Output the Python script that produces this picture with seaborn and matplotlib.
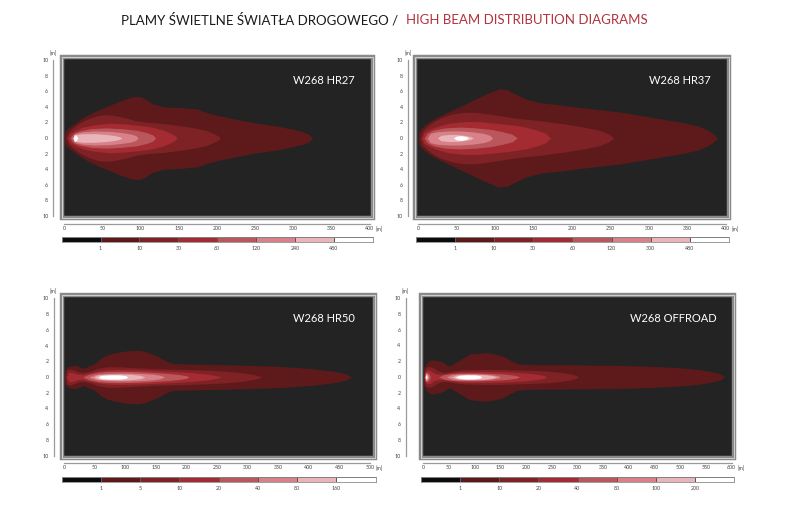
import numpy as np
import seaborn as sns
import matplotlib.pyplot as plt
from matplotlib.colors import ListedColormap
from matplotlib.patches import Rectangle

# poziomy natezenia (lux) - kolory od czarnego do bialego
level_colors = ['#0b0b0b', '#5e1a1b', '#7e2226', '#a32b31', '#b9575c', '#d98189', '#e9b5b9', '#ffffff']
bg_color = '#232323'

# --- W268 HR27 --- (odleglosc [m], polszerokosc [m]) dla kolejnych poziomow
hr27_labels = ['1', '10', '30', '60', '120', '240', '480']
hr27_x = [
    [0, 1.5, 6, 12, 20, 30, 45, 60, 75, 90, 100, 108, 115, 130, 150, 175, 185, 200, 220, 240, 260, 280, 300, 312, 320, 325],
    [3, 6, 12, 20, 30, 45, 55, 65, 80, 95, 110, 130, 150, 170, 185, 195, 201, 204],
    [5, 8, 15, 25, 40, 60, 80, 100, 115, 130, 140, 145, 148],
    [8, 12, 20, 35, 55, 75, 95, 108, 116, 120],
    [10, 15, 25, 40, 60, 75, 88, 94, 97],
    [12, 16, 25, 40, 55, 67, 73, 76],
    [12, 13.5, 16, 18],
]
hr27_w = [
    [0, 0.9, 1.3, 1.7, 2.3, 2.9, 3.6, 4.2, 4.8, 5.3, 5.3, 4.9, 4.4, 4.0, 3.9, 3.7, 3.3, 2.9, 2.5, 2.1, 1.8, 1.5, 1.1, 0.8, 0.5, 0],
    [0, 0.8, 1.3, 1.9, 2.4, 2.9, 3.0, 2.9, 2.6, 2.2, 2.0, 1.85, 1.6, 1.3, 1.0, 0.6, 0.3, 0],
    [0, 0.6, 1.0, 1.4, 1.7, 1.9, 1.8, 1.6, 1.4, 1.0, 0.6, 0.3, 0],
    [0, 0.6, 0.9, 1.2, 1.3, 1.2, 1.0, 0.7, 0.4, 0],
    [0, 0.6, 0.8, 0.9, 0.85, 0.7, 0.5, 0.3, 0],
    [0, 0.45, 0.55, 0.55, 0.45, 0.3, 0.15, 0],
    [0, 0.45, 0.35, 0],
]

# --- W268 HR37 ---
hr37_labels = ['1', '10', '30', '60', '120', '300', '480']
hr37_x = [
    [0, 1.5, 6, 12, 20, 30, 45, 60, 75, 90, 105, 115, 125, 140, 160, 187, 220, 265, 300, 343, 365, 376, 384, 389],
    [3, 6, 12, 20, 30, 45, 60, 75, 90, 110, 130, 160, 190, 215, 235, 248, 254],
    [5, 8, 15, 25, 40, 60, 80, 100, 120, 140, 155, 166, 172],
    [8, 12, 20, 35, 55, 75, 95, 110, 122, 129],
    [12, 16, 25, 40, 55, 70, 85, 93, 97],
    [25, 30, 40, 50, 60, 68, 72],
    [46, 50, 56, 62, 66],
]
hr37_w = [
    [0, 0.9, 1.4, 1.9, 2.4, 2.9, 3.6, 4.3, 5.0, 5.7, 6.3, 6.2, 5.7, 5.0, 4.5, 4.2, 3.8, 3.3, 2.7, 2.0, 1.5, 1.0, 0.5, 0],
    [0, 0.9, 1.5, 2.1, 2.6, 3.1, 3.3, 3.3, 3.1, 2.8, 2.5, 2.2, 1.8, 1.4, 1.0, 0.5, 0],
    [0, 0.7, 1.1, 1.5, 1.9, 2.1, 2.1, 1.9, 1.7, 1.4, 1.0, 0.6, 0],
    [0, 0.6, 1.0, 1.3, 1.4, 1.3, 1.1, 0.8, 0.5, 0],
    [0, 0.6, 0.8, 0.9, 0.9, 0.8, 0.6, 0.35, 0],
    [0, 0.35, 0.45, 0.45, 0.35, 0.2, 0],
    [0, 0.25, 0.3, 0.2, 0],
]

# --- W268 HR50 ---
hr50_labels = ['1', '5', '10', '20', '40', '80', '160']
hr50_x = [
    [0, 1, 5, 12, 20, 26, 32, 40, 50, 60, 70, 85, 100, 118, 130, 140, 150, 162, 170, 178, 200, 230, 270, 310, 350, 380, 410, 434, 450, 462, 469],
    [2, 4, 10, 18, 25, 35, 45, 55, 70, 90, 110, 150, 200, 240, 270, 295, 310, 318, 322],
    [4, 7, 14, 22, 30, 40, 55, 70, 90, 120, 150, 180, 210, 235, 250, 257],
    [30, 40, 55, 70, 90, 110, 140, 170, 190, 200, 204],
    [40, 50, 65, 85, 105, 125, 145, 158, 164],
    [48, 55, 70, 90, 110, 125, 132],
    [55, 60, 75, 90, 100, 104],
]
hr50_w = [
    [0, 0.9, 1.3, 1.4, 1.5, 1.2, 1.1, 1.4, 1.7, 2.4, 2.8, 3.1, 3.3, 3.4, 3.3, 3.0, 2.7, 2.2, 1.9, 1.7, 1.65, 1.6, 1.55, 1.45, 1.35, 1.2, 1.0, 0.8, 0.6, 0.35, 0],
    [0, 0.9, 1.0, 0.8, 0.6, 0.6, 0.8, 1.1, 1.3, 1.3, 1.2, 1.05, 0.95, 0.85, 0.7, 0.5, 0.3, 0.15, 0],
    [0, 0.6, 0.55, 0.35, 0.3, 0.5, 0.75, 0.9, 0.95, 0.9, 0.8, 0.7, 0.55, 0.35, 0.15, 0],
    [0, 0.35, 0.6, 0.7, 0.72, 0.7, 0.6, 0.45, 0.3, 0.15, 0],
    [0, 0.3, 0.45, 0.5, 0.5, 0.45, 0.35, 0.2, 0],
    [0, 0.28, 0.35, 0.38, 0.33, 0.2, 0],
    [0, 0.2, 0.28, 0.27, 0.18, 0],
]

# --- W268 OFFROAD ---
offroad_labels = ['1', '10', '20', '40', '80', '100', '200']
offroad_x = [
    [0, 1, 5, 10, 16, 24, 32, 40, 46, 52, 60, 70, 80, 90, 105, 123, 140, 156, 170, 182, 195, 230, 280, 330, 390, 440, 490, 520, 545, 565, 578, 586],
    [1, 3, 8, 14, 20, 28, 36, 45, 60, 80, 110, 150, 200, 240, 270, 290, 298, 302],
    [2, 4, 8, 14, 20, 28, 40, 55, 70, 90, 120, 160, 200, 225, 236, 240],
    [2, 4, 8, 12, 14, 30, 40, 55, 75, 100, 130, 160, 180, 188],
    [3, 5, 8, 10, 45, 55, 70, 90, 110, 130, 145, 150],
    [3.5, 5, 7, 9, 55, 65, 80, 100, 120, 135, 142],
    [4, 5.5, 7, 62, 70, 85, 100, 110, 114],
]
offroad_w = [
    [0, 1.2, 1.6, 2.0, 2.2, 2.1, 2.0, 1.8, 1.5, 1.4, 1.7, 2.1, 2.5, 2.9, 3.0, 3.1, 2.9, 2.6, 2.1, 1.7, 1.6, 1.55, 1.55, 1.5, 1.45, 1.35, 1.2, 1.05, 0.85, 0.6, 0.35, 0],
    [0, 1.0, 1.3, 1.3, 1.1, 0.8, 0.6, 0.6, 0.75, 0.9, 0.95, 0.95, 0.85, 0.75, 0.55, 0.35, 0.15, 0],
    [0, 0.7, 0.9, 0.8, 0.5, 0.35, 0.35, 0.5, 0.65, 0.7, 0.7, 0.65, 0.5, 0.3, 0.15, 0],
    [0, 0.6, 0.6, 0.3, 0, 0, 0.3, 0.45, 0.5, 0.5, 0.45, 0.35, 0.18, 0],
    [0, 0.45, 0.4, 0, 0, 0.28, 0.38, 0.4, 0.38, 0.3, 0.15, 0],
    [0, 0.38, 0.3, 0, 0, 0.25, 0.32, 0.33, 0.28, 0.15, 0],
    [0, 0.28, 0, 0, 0.2, 0.27, 0.25, 0.15, 0],
]

W, H = 786, 522
sns.set_style('white')
plt.rcParams['font.family'] = ['Lato', 'DejaVu Sans']

fig = plt.figure(figsize=(W / 100, H / 100), dpi=100)


def box(x0, y0, x1, y1):
    return [x0 / W, 1 - y1 / H, (x1 - x0) / W, (y1 - y0) / H]


def draw_panel(ax_px, frame_px, cb_px, yout, xout, name, xmax, xs, ws, labels):
    ax = fig.add_axes(box(*ax_px))
    ax.patch.set_visible(False)
    ax0, ay0, ax1, ay1 = ax_px
    fx0 = (frame_px[0] - ax0) / (ax1 - ax0)
    fx1 = (frame_px[2] - ax0) / (ax1 - ax0)
    fy1 = (ay1 - frame_px[1]) / (ay1 - ay0)
    fy0 = (ay1 - frame_px[3]) / (ay1 - ay0)
    ax.add_patch(Rectangle((fx0, fy0), fx1 - fx0, fy1 - fy0, transform=ax.transAxes,
                           facecolor=bg_color, edgecolor='#8a8a8a', lw=3.2, clip_on=False, zorder=0))
    ax.add_patch(Rectangle((fx0, fy0), fx1 - fx0, fy1 - fy0, transform=ax.transAxes,
                           facecolor='none', edgecolor='#dcdcdc', lw=0.6, clip_on=False, zorder=5))

    for i in range(len(xs)):
        x = np.array(xs[i])
        w = np.array(ws[i])
        ax.fill_between(x, -w, w, color=level_colors[i + 1], lw=0, zorder=2 + i * 0.1)

    ax.set_xlim(0, xmax)
    ax.set_ylim(-10, 10)
    ax.set_xticks(np.arange(0, xmax + 1, 50))
    ax.set_yticks(np.arange(-10, 11, 2))
    ax.set_yticklabels([str(abs(v)) for v in range(-10, 11, 2)])
    for s in ['top', 'right']:
        ax.spines[s].set_visible(False)
    ax.spines['left'].set_position(('outward', yout))
    ax.spines['bottom'].set_position(('outward', xout))
    for s in ['left', 'bottom']:
        ax.spines[s].set_color('#9a9a9a')
        ax.spines[s].set_linewidth(0.9)
    ax.tick_params(length=2.2, width=0.5, color='#555555', labelsize=3.8,
                   labelcolor='#444444', pad=1.5, direction='out')
    ax.tick_params(axis='x', direction='in', length=2.5)
    ax.annotate('[m]', xy=(0, 1), xycoords='axes fraction', xytext=(-yout, 3),
                textcoords='offset points', ha='center', va='bottom', fontsize=3.8, color='#444444')
    ax.annotate('[m]', xy=(1, 0), xycoords='axes fraction', xytext=(7, -xout - 4.0),
                textcoords='offset points', ha='center', va='center', fontsize=3.8, color='#444444')
    ax.text(0.95, 0.87, name, transform=ax.transAxes, ha='right', va='center',
            fontsize=8, color='white', zorder=6)

    cax = fig.add_axes(box(*cb_px))
    strip = np.arange(len(level_colors)).reshape(1, -1)
    sns.heatmap(strip, ax=cax, cmap=ListedColormap(level_colors), vmin=-0.5,
                vmax=len(level_colors) - 0.5, cbar=False, linewidths=0.5,
                linecolor='#5a5a5a', xticklabels=False, yticklabels=False)
    cax.set_xticks(np.arange(1, len(level_colors)))
    cax.set_xticklabels(labels)
    cax.tick_params(axis='x', length=0, labelsize=3.8, labelcolor='#444444', pad=2.5)
    for s in cax.spines.values():
        s.set_visible(True)
        s.set_color('#8a8a8a')
        s.set_linewidth(0.6)


draw_panel((64, 60, 370, 216), (62, 57, 373, 218), (61.7, 236.7, 372.7, 242.3), 7.7, 6.0,
           'W268 HR27', 400, hr27_x, hr27_w, hr27_labels)
draw_panel((418, 60, 726, 216), (415, 57, 729, 218), (415.7, 236.7, 729, 242.3), 7.2, 6.0,
           'W268 HR37', 400, hr37_x, hr37_w, hr37_labels)
draw_panel((64.3, 298.3, 370, 455.7), (61.7, 295, 375, 458), (61.7, 476.7, 375.7, 482.3), 7.7, 5.5,
           'W268 HR50', 500, hr50_x, hr50_w, hr50_labels)
draw_panel((423.3, 298.3, 731.7, 455.5), (421, 295, 734.3, 458.3), (420.7, 476.7, 734.3, 482.3), 12.7, 5.5,
           'W268 OFFROAD', 600, offroad_x, offroad_w, offroad_labels)

fig.text(398 / W, 1 - 20 / H, 'PLAMY ŚWIETLNE ŚWIATŁA DROGOWEGO /', ha='right', va='center',
         fontsize=9.5, color='#1a1a1a')
fig.text(406 / W, 1 - 20 / H, 'HIGH BEAM DISTRIBUTION DIAGRAMS', ha='left', va='center',
         fontsize=9.5, color='#b3323c')

fig.savefig('out.png', dpi=100)
